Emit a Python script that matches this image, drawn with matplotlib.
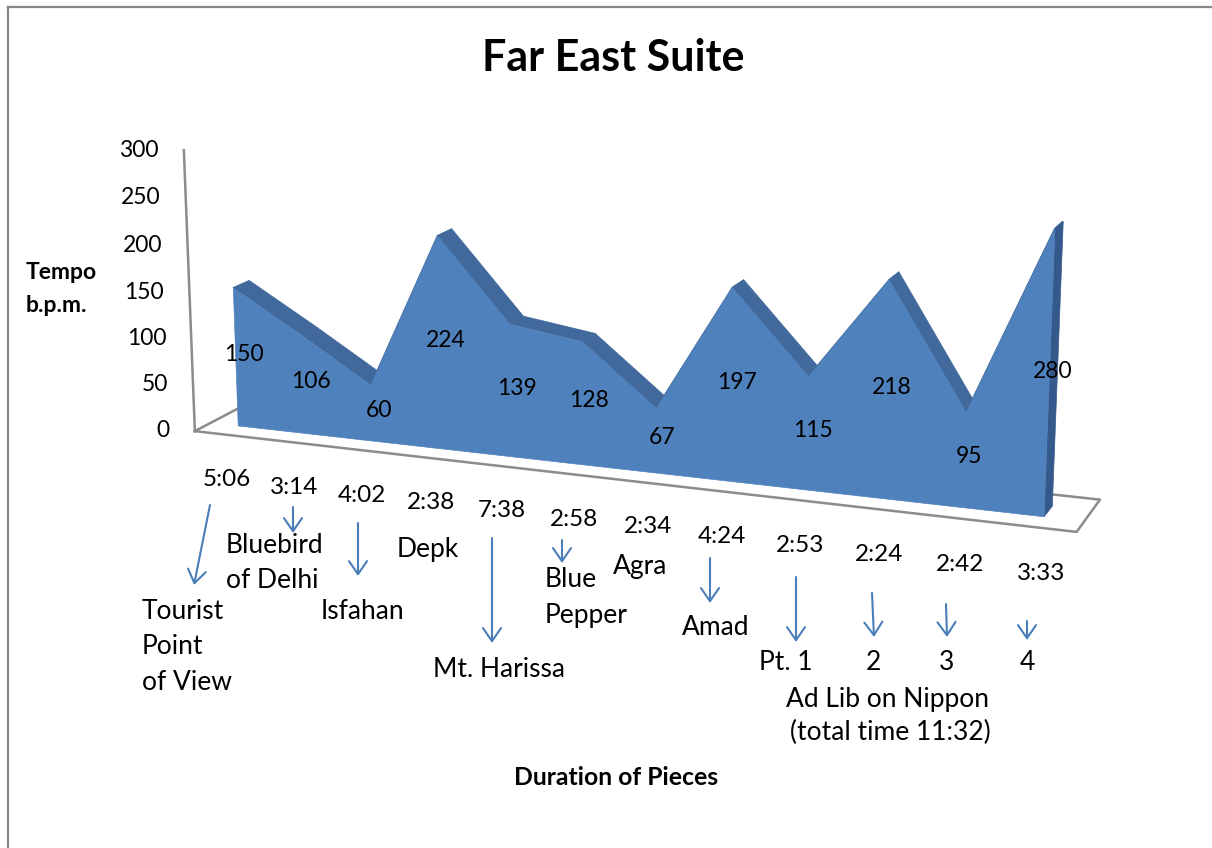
import numpy as np
import matplotlib
matplotlib.use("Agg")
import matplotlib.pyplot as plt
from mpl_toolkits.mplot3d.art3d import Poly3DCollection

plt.rcParams['font.family'] = ['Lato', 'DejaVu Sans']

# data
tempo = [150, 106, 60, 224, 139, 128, 67, 197, 115, 218, 95, 280]
durations = ["5:06", "3:14", "4:02", "2:38", "7:38", "2:58",
             "2:34", "4:24", "2:53", "2:24", "2:42", "3:33"]
pieces = ["Tourist\nPoint\nof View", "Bluebird\nof Delhi", "Isfahan", "Depk",
          "Mt. Harissa", "Blue\nPepper", "Agra", "Amad", "Pt. 1", "2", "3", "4"]
value_ticks = [0, 50, 100, 150, 200, 250, 300]
suite_note = ["Ad Lib on Nippon", "(total time 11:32)"]

# hand placed annotation layout (pixels, y down) like the text boxes in the original
W, H = 1212, 848
dur_pos = [(227, 486), (294, 494), (362, 502), (431, 509), (502, 517), (574, 526),
           (648, 533), (722, 543), (800, 552), (879, 561), (960, 571), (1041, 580)]
name_pos = [(142, 619, 'left'), (226, 553, 'left'), (362, 619, 'center'), (428, 557, 'center'),
            (499, 677, 'center'), (545, 587, 'left'), (640, 574, 'center'), (716, 635, 'center'),
            (786, 670, 'center'), (873, 670, 'center'), (947, 670, 'center'), (1027, 670, 'center')]
arrows = [((210, 505), (194, 585)), ((293, 507), (293, 533)), ((358, 523), (358, 576)),
          ((492, 538), (492, 643)), ((562, 540), (562, 563)), ((710, 558), (710, 603)),
          ((796, 577), (796, 642)), ((872, 593), (874, 637)), ((946, 604), (947, 637)),
          ((1027, 621), (1027, 640))]

blue = '#4F81BD'
top_blue = '#41699B'
side_blue = '#34598A'
grey = '#8C8C8C'

fig = plt.figure(figsize=(W / 100, H / 100), dpi=100)

# 3d area chart
S = 1014
cx, cy = 629, H - 320
ax = fig.add_axes([(cx - 0.5135 * S) / W, (cy - 0.5135 * S) / H, S / W, S / H], projection='3d')
ax.set_box_aspect((953, 108, 305), zoom=0.95)
ax.set_proj_type('persp', focal_length=0.51)
ax.view_init(elev=14, azim=-69, roll=0)
x0, x1 = -0.40, len(tempo) - 1 + 0.5
ax.set_xlim(x0, x1)
ax.set_ylim(0, 3)
ax.set_zlim(0, 300)
ax.set_axis_off()
ax.set_facecolor('none')
ax.computed_zorder = False

n = len(tempo)
xs = np.arange(n)

# floor outline and value axis
ax.plot([x0, x1, x1, x0, x0], [0, 0, 3, 3, 0], [0, 0, 0, 0, 0], color=grey, lw=1.8, zorder=1)
ax.plot([x0, x0], [0, 0], [0, 300], color=grey, lw=1.8, zorder=1)

# top strips and right side
strips = []
for i in range(n - 1):
    strips.append([(xs[i], 1, tempo[i]), (xs[i + 1], 1, tempo[i + 1]),
                   (xs[i + 1], 2, tempo[i + 1]), (xs[i], 2, tempo[i])])
top = Poly3DCollection(strips, facecolor=top_blue, edgecolor=top_blue, linewidth=0.5)
top.set_zorder(2)
ax.add_collection3d(top)

side = Poly3DCollection([[(xs[-1], 1, 0), (xs[-1], 2, 0), (xs[-1], 2, tempo[-1]), (xs[-1], 1, tempo[-1])]],
                        facecolor=side_blue, edgecolor=side_blue, linewidth=0.5)
side.set_zorder(2)
ax.add_collection3d(side)

front_pts = [(xs[i], 1, tempo[i]) for i in range(n)] + [(xs[-1], 1, 0), (xs[0], 1, 0)]
front = Poly3DCollection([front_pts], facecolor=blue, edgecolor=blue, linewidth=0.5)
front.set_zorder(3)
ax.add_collection3d(front)

for i, v in enumerate(tempo):
    ax.text(xs[i], 1.5, v / 2, str(v), ha='center', va='center_baseline', fontsize=16.5, zorder=6)

for v in value_ticks:
    ax.text(x0 - 0.38, 0, v, str(v), ha='right', va='center_baseline', fontsize=16.5, zorder=6)

# overlay for titles and the hand drawn labels
ov = fig.add_axes([0, 0, 1, 1])
ov.set_xlim(0, W)
ov.set_ylim(H, 0)
ov.axis('off')
ov.set_facecolor('none')

ov.plot([8, 8], [H + 5, 7], color='#878787', lw=1.6)
ov.plot([8, W + 5], [7, 7], color='#878787', lw=1.6)

ov.text(613, 71, "Far East Suite", ha='center', va='baseline', fontsize=31, weight='bold')
ov.text(26, 279, "Tempo", ha='left', va='baseline', fontsize=16.5, weight='bold')
ov.text(26, 312, "b.p.m.", ha='left', va='baseline', fontsize=16.5, weight='bold')
ov.text(616, 785, "Duration of Pieces", ha='center', va='baseline', fontsize=17.8, weight='bold')

for lab, (px, py) in zip(durations, dur_pos):
    ov.text(px, py, lab, ha='center', va='baseline', fontsize=17.5)

for lab, (px, py, al) in zip(pieces, name_pos):
    for k, line in enumerate(lab.split("\n")):
        ov.text(px, py + k * 35.5, line, ha=al, va='baseline', fontsize=19)

ov.text(887, 707, suite_note[0], ha='center', va='baseline', fontsize=19)
ov.text(890, 740, suite_note[1], ha='center', va='baseline', fontsize=19)

for start, tip in arrows:
    ov.annotate('', xy=tip, xytext=start,
                arrowprops=dict(arrowstyle='->,head_length=0.94,head_width=0.65',
                                color='#4A7EBB', lw=1.5, shrinkA=0, shrinkB=0, mutation_scale=10))

fig.savefig('out.png', dpi=100)
